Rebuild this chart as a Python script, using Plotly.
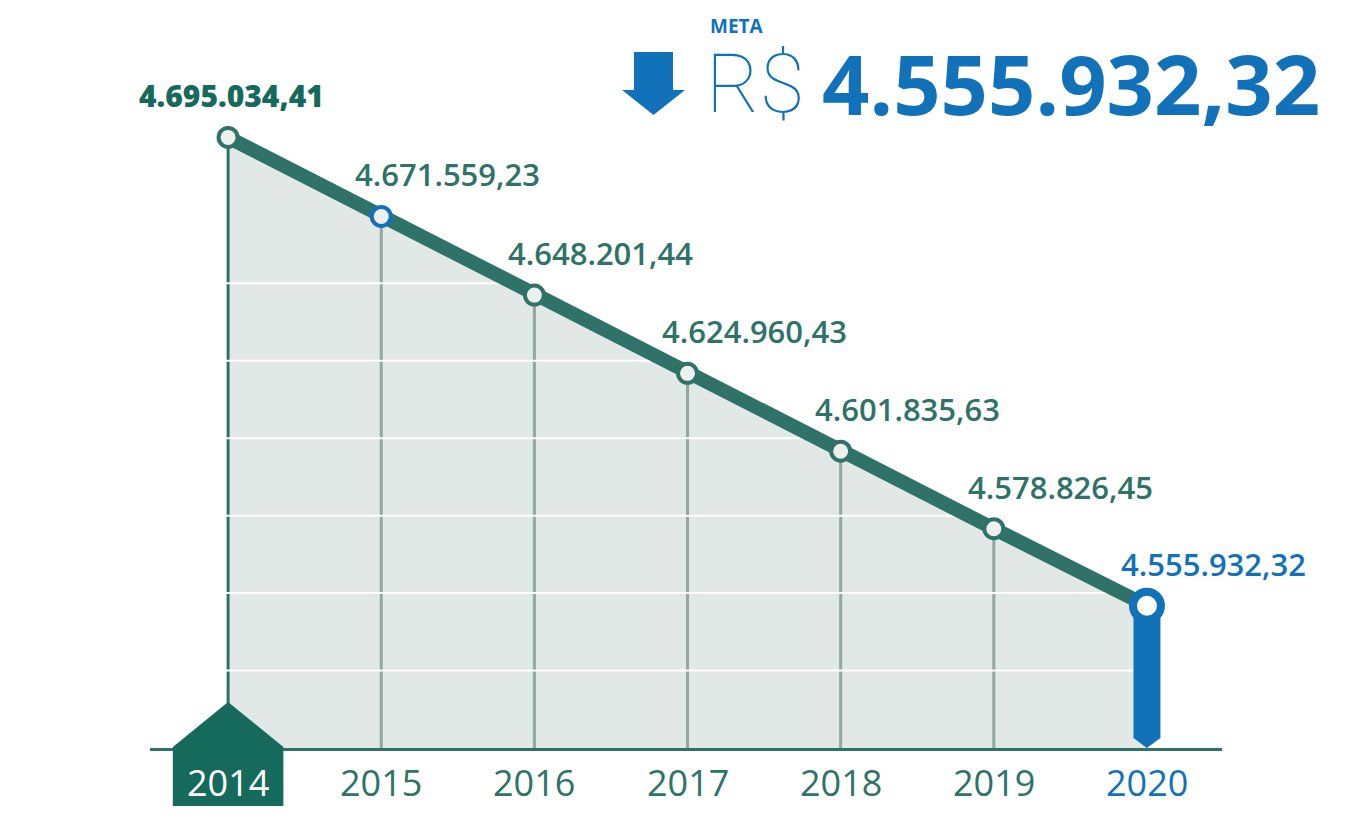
import plotly.graph_objects as go

# ---- data ----
years = [2014, 2015, 2016, 2017, 2018, 2019, 2020]
values = [4695034.41, 4671559.23, 4648201.44, 4624960.43, 4601835.63, 4578826.45, 4555932.32]
value_labels = ["4.695.034,41", "4.671.559,23", "4.648.201,44", "4.624.960,43",
                "4.601.835,63", "4.578.826,45", "4.555.932,32"]
year_labels = ["2014", "2015", "2016", "2017", "2018", "2019", "2020"]
grid_values = [4536700, 4559700, 4582700, 4605700, 4628700, 4651700]
y_floor = 4513700
y_ceiling = 4706140
meta_title = "META"
meta_currency = "R$"
meta_value = "4.555.932,32"

# ---- colours ----
GREEN = "#2e7268"
DARK_GREEN = "#156a5c"
BLUE = "#1172b9"
FILL = "#e2e8e6"
STEM = "#8ea8a2"
DOT = "#eef0ef"
FONT = "Open Sans"

W, H = 1364, 815
OFF = 8  # page body margin shifts the figure
M_L, M_R, M_T, M_B = 150 - OFF, 142 + OFF, 100 - OFF, 67 + OFF


def px(x):
    return (x - OFF - M_L) / (W - M_L - M_R)


def py(y):
    return (H - M_B - (y - OFF)) / (H - M_T - M_B)


first, last = years[0], years[-1]

fig = go.Figure()

# area under the line
fig.add_trace(go.Scatter(x=years, y=values, fill="tozeroy", fillcolor=FILL,
                         mode="none", hoverinfo="skip"))

# vertical stems
sx, sy = [], []
for yr, v in zip(years[1:-1], values[1:-1]):
    sx += [yr, yr, None]
    sy += [v, y_floor, None]
fig.add_trace(go.Scatter(x=sx, y=sy, mode="lines", line=dict(color=STEM, width=3),
                         hoverinfo="skip"))
fig.add_trace(go.Scatter(x=[first, first], y=[values[0], y_floor], mode="lines",
                         line=dict(color=GREEN, width=3), hoverinfo="skip"))

# white grid lines over the area
gx, gy = [], []
for g in grid_values:
    gx += [first - 0.05, last, None]
    gy += [g, g, None]
fig.add_trace(go.Scatter(x=gx, y=gy, mode="lines", line=dict(color="white", width=2),
                         hoverinfo="skip"))

# main line
fig.add_trace(go.Scatter(x=years, y=values, mode="lines",
                         line=dict(color=GREEN, width=14), hoverinfo="skip"))

# blue pointer under the target
half = 0.088
taper = (values[-1] - y_floor) * 0.07
bx = [last - half, last + half, last + half, last, last - half, last - half]
by = [values[-1], values[-1], y_floor + taper, y_floor, y_floor + taper, values[-1]]
fig.add_trace(go.Scatter(x=bx, y=by, mode="lines", fill="toself", fillcolor=BLUE,
                         line=dict(width=0, color=BLUE), hoverinfo="skip"))

# markers
green_idx = [i for i in range(len(years)) if i not in (1, len(years) - 1)]
fig.add_trace(go.Scatter(x=[years[i] for i in green_idx], y=[values[i] for i in green_idx],
                         mode="markers", hoverinfo="skip",
                         marker=dict(color=DOT, size=19, line=dict(color=GREEN, width=4))))
fig.add_trace(go.Scatter(x=[years[1]], y=[values[1]], mode="markers", hoverinfo="skip",
                         marker=dict(color=DOT, size=19, line=dict(color=BLUE, width=4))))
fig.add_trace(go.Scatter(x=[years[-1]], y=[values[-1]], mode="markers", hoverinfo="skip",
                         marker=dict(color="white", size=28, line=dict(color=BLUE, width=8))))

# value labels
for i, (yr, v, lab) in enumerate(zip(years, values, value_labels)):
    if i == 0:
        fig.add_annotation(x=yr, y=v, text=lab, showarrow=False, xanchor="center",
                           yanchor="middle", xshift=3, yshift=42,
                           font=dict(family=FONT, size=30, color=DARK_GREEN, weight=800))
    else:
        fig.add_annotation(x=yr, y=v, text=lab, showarrow=False, xanchor="left",
                           yanchor="middle", xshift=-28, yshift=42,
                           font=dict(family=FONT, size=31, weight=600,
                                     color=BLUE if i == len(years) - 1 else GREEN))

# year labels
for i, (yr, lab) in enumerate(zip(years, year_labels)):
    col = GREEN
    if i == 0:
        col = "white"
    elif i == len(years) - 1:
        col = BLUE
    fig.add_annotation(x=yr, y=0, xref="x", yref="paper", text=lab, showarrow=False,
                       xanchor="center", yanchor="middle", yshift=-34,
                       font=dict(family=FONT, size=36, color=col))

# house marker for the start year
hw = 0.361
fig.add_shape(type="path", xref="x", yref="paper", layer="above",
              fillcolor=DARK_GREEN, line=dict(width=0),
              path=(f"M {first - hw},{py(806)} L {first - hw},{py(747)} "
                    f"L {first},{py(702)} L {first + hw},{py(747)} "
                    f"L {first + hw},{py(806)} Z"))

# headline: down arrow + META value
fig.add_shape(type="path", xref="paper", yref="paper", layer="above",
              fillcolor=BLUE, line=dict(width=0),
              path=(f"M {px(634)},{py(52)} L {px(673)},{py(52)} L {px(673)},{py(90)} "
                    f"L {px(685)},{py(90)} L {px(653.5)},{py(115)} L {px(622)},{py(90)} "
                    f"L {px(634)},{py(90)} Z"))
fig.add_annotation(x=px(708), y=py(26), xref="paper", yref="paper", text=meta_title,
                   showarrow=False, xanchor="left", yanchor="middle",
                   font=dict(family=FONT, size=19, color=BLUE, weight=700))
fig.add_annotation(x=px(704), y=py(84), xref="paper", yref="paper", text=meta_currency,
                   showarrow=False, xanchor="left", yanchor="middle",
                   font=dict(family="Roboto", size=82, color=BLUE, weight=100))
fig.add_annotation(x=px(1322), y=py(82), xref="paper", yref="paper", text=meta_value,
                   showarrow=False, xanchor="right", yanchor="middle",
                   font=dict(family=FONT, size=83, color=BLUE, weight=700))

fig.update_layout(
    width=W, height=H,
    margin=dict(l=M_L, r=M_R, t=M_T, b=M_B),
    paper_bgcolor="white", plot_bgcolor="white",
    showlegend=False, hovermode=False,
    xaxis=dict(range=[first - 0.51, last + 0.49], showgrid=False, zeroline=False,
               showticklabels=False, showline=True, linecolor=GREEN, linewidth=3),
    yaxis=dict(range=[y_floor, y_ceiling], showgrid=False, zeroline=False,
               showticklabels=False, showline=False),
)

fig.write_html("out.html")
